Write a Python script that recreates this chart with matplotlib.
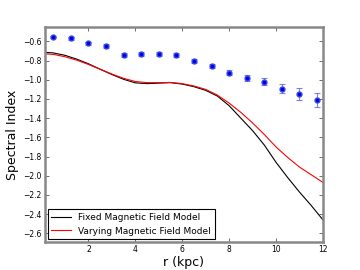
import numpy as np
import matplotlib
matplotlib.use("Agg")
import matplotlib.pyplot as plt

# observed spectral index
r_obs = [0.5, 1.25, 2.0, 2.75, 3.5, 4.25, 5.0, 5.75, 6.5, 7.25, 8.0, 8.75, 9.5, 10.25, 11.0, 11.75]
si_obs = [-0.554, -0.569, -0.621, -0.652, -0.739, -0.732, -0.728, -0.746,
          -0.801, -0.857, -0.927, -0.982, -1.021, -1.094, -1.149, -1.212]
si_err = [0.015, 0.015, 0.018, 0.02, 0.02, 0.02, 0.02, 0.02,
          0.02, 0.02, 0.025, 0.03, 0.035, 0.045, 0.06, 0.075]

# model curves
r_mod = [0.15, 0.5, 1.0, 1.5, 2.0, 2.5, 3.0, 3.5, 4.0, 4.5, 5.0, 5.5, 6.0,
         6.5, 7.0, 7.5, 8.0, 8.5, 9.0, 9.5, 10.0, 10.5, 11.0, 11.5, 12.0]
si_fixed = [-0.714, -0.72, -0.745, -0.785, -0.833, -0.89, -0.945, -0.995, -1.032,
            -1.04, -1.035, -1.03, -1.045, -1.072, -1.11, -1.17, -1.27, -1.40,
            -1.53, -1.68, -1.86, -2.02, -2.17, -2.31, -2.46]
si_vary = [-0.73, -0.735, -0.76, -0.795, -0.84, -0.89, -0.94, -0.985, -1.018,
           -1.03, -1.03, -1.028, -1.04, -1.065, -1.10, -1.16, -1.243, -1.34,
           -1.45, -1.57, -1.70, -1.81, -1.91, -1.99, -2.07]

fig = plt.figure(figsize=(3.6, 2.7), dpi=100)
ax = fig.add_axes([0.125, 0.104, 0.772, 0.796])

ax.plot(r_mod, si_fixed, color='black', lw=0.8, label='Fixed Magnetic Field Model')
ax.plot(r_mod, si_vary, color='red', lw=0.8, label='Varying Magnetic Field Model')
ax.errorbar(r_obs, si_obs, yerr=si_err, fmt='o', color='#0000dd', ms=3.5,
            mec='#3344ee', ecolor=(0.3, 0.3, 0.9, 0.7), elinewidth=0.8,
            capsize=2, capthick=0.8)

ax.set_xlim(0.15, 12)
ax.set_ylim(-2.69, -0.45)
ax.set_xticks([2, 4, 6, 8, 10, 12])
ax.set_yticks(np.arange(-2.6, -0.5, 0.2))
ax.tick_params(direction='in', top=True, right=True, labelsize=5.5, length=3,
               width=0.6, color='#555555', pad=2.5)
for s in ax.spines.values():
    s.set_color('#888888')
    s.set_linewidth(1.8)

ax.set_xlabel('r (kpc)', fontsize=9, labelpad=1)
ax.set_ylabel('Spectral Index', fontsize=9, labelpad=3)

leg = ax.legend(loc='lower left', fontsize=6.5, fancybox=False, framealpha=1,
                borderaxespad=0.3, handlelength=2.2)
leg.get_frame().set_edgecolor('black')
leg.get_frame().set_linewidth(0.8)

fig.savefig('out.png', dpi=100)
